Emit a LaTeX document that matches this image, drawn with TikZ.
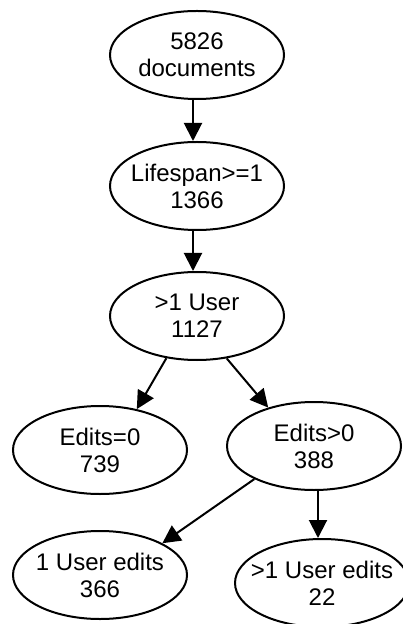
\documentclass[tikz,border=0pt]{standalone}
\usepackage{fontspec}
\setmainfont{Liberation Sans}
\usetikzlibrary{shapes,positioning,arrows.meta}

\begin{document}
\begin{tikzpicture}[main/.style = {draw, ellipse, line width=1pt, minimum width=87pt, minimum height=44pt, inner xsep=-10pt, inner ysep=0pt, align=center, font=\fontsize{12}{13.5}\selectfont}, node distance=65pt, >={Triangle[length=9pt,width=9pt]}] 
	\useasboundingbox (0,0) rectangle (201pt,-312pt);
	\node[main] (1) at (98.5pt,-27.5pt) {5826\\documents}; 
	\node[main] (2) [below of=1, yshift=-0.5pt] {Lifespan>=1\\1366}; 
	\node[main] (3) [below of=2] {>1 User\\1127}; 
	\node[main] (4) [below of=3, xshift=-48.5pt, yshift=-2pt] {Edits=0\\739}; 
	\node[main] (5) [below of=3, xshift=58.5pt] {Edits>0\\388}; 
	\node[main] (6) [below of=4, yshift=2.5pt] {1 User edits\\366}; 
	\node[main] (7) [below of=5, xshift=4pt, yshift=-3.5pt] {>1 User edits\\22}; 
	\draw[->, line width=1pt] ([xshift=-2pt]1.south) -- ([xshift=-2pt]2.north);
	\draw[->, line width=1pt] ([xshift=-2pt]2.south) -- ([xshift=-2pt]3.north);
	\draw[->, line width=1pt] (3.234) -- (4.48);
	\draw[->, line width=1pt] (3.305) -- (5.140);
	\draw[->, line width=1pt] (5.209) -- (6.27);
	\draw[->, line width=1pt] ([xshift=2pt]5.south) -- ([xshift=2pt]5.south |- 7.north);
\end{tikzpicture}
\end{document}
